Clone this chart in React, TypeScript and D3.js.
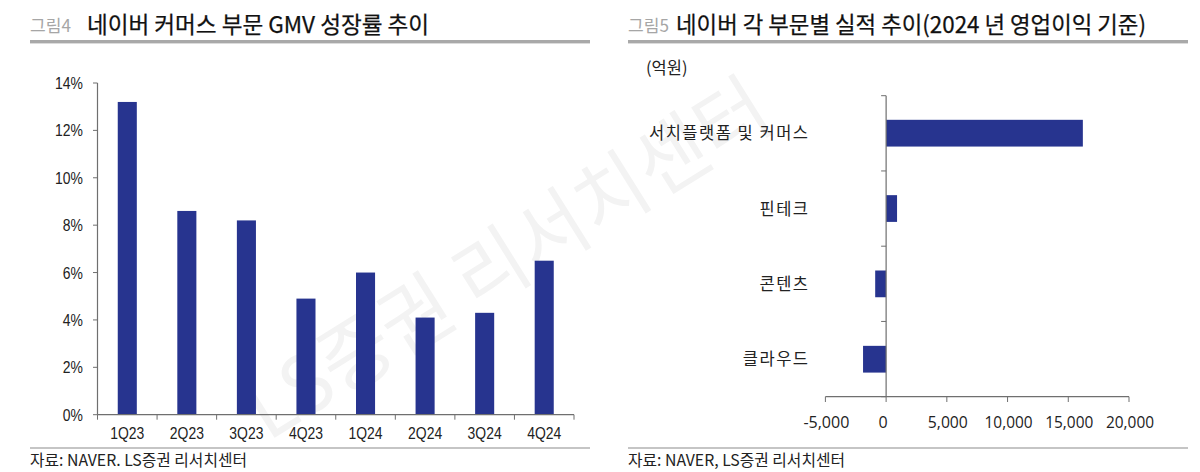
import React from "react";
import * as d3 from "d3";

const quarters = ["1Q23", "2Q23", "3Q23", "4Q23", "1Q24", "2Q24", "3Q24", "4Q24"];
const gmvGrowth = [13.2, 8.6, 8.2, 4.9, 6.0, 4.1, 4.3, 6.5];
const growthTicks = [0, 2, 4, 6, 8, 10, 12, 14];
const segments = ["서치플랫폼 및 커머스", "핀테크", "콘텐츠", "클라우드"];
const segmentProfit = [16200, 900, -900, -1900];
const profitTicks = [-5000, 0, 5000, 10000, 15000, 20000];

const KR = "'Noto Sans CJK KR','Noto Sans',sans-serif";
const LAT = "'Liberation Sans',Arial,sans-serif";
const BAR = "#27348f";
const AXIS = "#6f6f6f";

const x1 = d3.scaleBand<string>().domain(quarters).range([97.5, 574]).paddingInner(0.68).paddingOuter(0.34);
const x1Band = d3.scaleBand<string>().domain(quarters).range([97.5, 574]);
const y1 = d3.scaleLinear().domain([0, 14]).range([414.7, 83]);

const y2 = d3.scaleBand<string>().domain(segments).range([95.7, 396.7]).paddingInner(0.645).paddingOuter(0.32);
const y2Band = d3.scaleBand<string>().domain(segments).range([95.7, 396.7]);
const x2 = d3.scaleLinear().domain([-5000, 20000]).range([825.4, 1129]);

function Header({ x, fig, title, titleX, w }: { x: number; fig: string; title: string; titleX: number; w: number }) {
  return (
    <g>
      <text x={x} y={32} fontFamily={KR} fontSize={17} fill="#a6a6a6" textLength={41} lengthAdjust="spacingAndGlyphs">{fig}</text>
      <text x={titleX} y={33} fontFamily={KR} fontSize={23} fontWeight={400} stroke="#111" strokeWidth={0.25} fill="#111" textLength={w} lengthAdjust="spacingAndGlyphs">{title}</text>
      <rect x={x} y={40} width={560} height={3.4} fill="#a9a9a9" />
      <line x1={x} x2={x + 560} y1={448} y2={448} stroke="#8c8c8c" strokeWidth={1.2} />
    </g>
  );
}

export default function App() {
  const fmt = (v: number) => d3.format(",")(v).replace("−", "-");
  return (
    <svg width={1200} height={472} style={{ position: "absolute", left: 0, top: 0, background: "#fff" }}>
      <text transform="translate(268,442) rotate(-32)" fontFamily={KR} fontSize={80} fill="#f3f3f3" textLength={600} lengthAdjust="spacingAndGlyphs">LS증권 리서치센터</text>

      <Header x={30} fig="그림4" title="네이버 커머스 부문 GMV 성장률 추이" titleX={87} w={342} />
      <Header x={628} fig="그림5" title="네이버 각 부문별 실적 추이(2024 년 영업이익 기준)" titleX={676} w={470} />

      {quarters.map((q, i) => (
        <rect key={q} x={x1(q)} width={x1.bandwidth()} y={y1(gmvGrowth[i])} height={y1(0) - y1(gmvGrowth[i])} fill={BAR} />
      ))}
      <line x1={97.5} x2={97.5} y1={y1(14)} y2={y1(0)} stroke={AXIS} strokeWidth={1.2} />
      <line x1={97.5} x2={574} y1={y1(0)} y2={y1(0)} stroke={AXIS} strokeWidth={1.2} />
      {growthTicks.map((t) => (
        <g key={t}>
          <line x1={93} x2={97.5} y1={y1(t)} y2={y1(t)} stroke={AXIS} />
          <text transform={`translate(83,${y1(t) + 6}) scale(0.82,1)`} textAnchor="end" fontFamily={LAT} fontSize={17} fill="#222">{t}%</text>
        </g>
      ))}
      {quarters.map((q) => (
        <text key={q} transform={`translate(${x1Band(q)! + x1Band.bandwidth() / 2},439) scale(0.82,1)`} textAnchor="middle" fontFamily={LAT} fontSize={17} fill="#222">{q}</text>
      ))}
      {[...quarters.map((q) => x1Band(q)!), 574].map((v) => (
        <line key={v} x1={v} x2={v} y1={y1(0)} y2={y1(0) + 5} stroke={AXIS} />
      ))}

      <text x={646} y={74} fontFamily={KR} fontSize={16.5} fill="#222">(억원)</text>
      {segments.map((s, i) => {
        const v = segmentProfit[i];
        return (
          <g key={s}>
            <rect x={Math.min(x2(0), x2(v))} width={Math.abs(x2(v) - x2(0))} y={y2(s)} height={y2.bandwidth()} fill={BAR} />
            <text x={809.5} y={y2(s)! + y2.bandwidth() / 2 + 6} textAnchor="end" fontFamily={KR} fontSize={16.5} letterSpacing={1.5} fill="#222">{s}</text>
          </g>
        );
      })}
      <line x1={x2(0)} x2={x2(0)} y1={95.7} y2={396.7} stroke={AXIS} strokeWidth={1.2} />
      {[...segments.map((s) => y2Band(s)!), 396.7].map((v) => (
        <line key={v} x1={x2(0) - 5} x2={x2(0)} y1={v} y2={v} stroke={AXIS} />
      ))}
      <line x1={x2(-5000)} x2={x2(20000)} y1={396.7} y2={396.7} stroke={AXIS} strokeWidth={1.2} />
      {profitTicks.map((t) => (
        <g key={t}>
          <line x1={x2(t)} x2={x2(t)} y1={396.7} y2={402} stroke={AXIS} />
          <text x={x2(t) - (t === 0 ? 3 : -1)} y={428} textAnchor="middle" fontFamily="'Open Sans','Liberation Sans',sans-serif" fontSize={16} fill="#222" textLength={t === 0 ? undefined : t >= 10000 || t === -5000 ? (t === -5000 ? 46 : 48) : 40} lengthAdjust="spacingAndGlyphs">{fmt(t)}</text>
        </g>
      ))}

      <text x={30} y={466} fontFamily={KR} fontSize={16} fill="#222" textLength={217} lengthAdjust="spacingAndGlyphs">자료: NAVER. LS증권 리서치센터</text>
      <text x={628} y={466} fontFamily={KR} fontSize={16} fill="#222" textLength={217} lengthAdjust="spacingAndGlyphs">자료: NAVER, LS증권 리서치센터</text>
    </svg>
  );
}
